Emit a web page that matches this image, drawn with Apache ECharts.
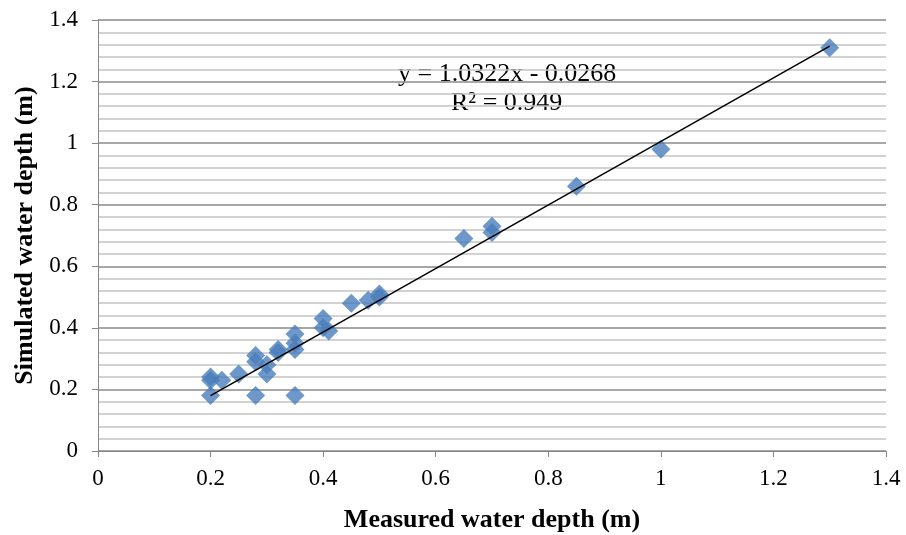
<!DOCTYPE html>
<html>
<head>
<meta charset="utf-8">
<script src="https://cdn.jsdelivr.net/npm/echarts@6/dist/echarts.min.js"></script>
<style>html,body{margin:0;padding:0;background:#fff}#c{width:906px;height:535px}</style>
</head>
<body>
<div id="c"></div>
<script>
var measured = [0.20, 0.20, 0.20, 0.22, 0.25, 0.28, 0.28, 0.28, 0.30, 0.30, 0.32, 0.32, 0.35, 0.35, 0.35, 0.35, 0.40, 0.40, 0.41, 0.45, 0.48, 0.50, 0.50, 0.65, 0.70, 0.70, 0.85, 1.00, 1.30];
var simulated = [0.24, 0.23, 0.18, 0.23, 0.25, 0.31, 0.29, 0.18, 0.25, 0.28, 0.32, 0.33, 0.38, 0.35, 0.33, 0.18, 0.43, 0.40, 0.39, 0.48, 0.49, 0.51, 0.50, 0.69, 0.73, 0.71, 0.86, 0.98, 1.31];
var trendX = [0.2, 1.3];
var slope = 1.0322, intercept = -0.0268;
var eqText = 'y = 1.0322x - 0.0268';
var r2Text = 'R² = 0.949';
var xTitle = 'Measured water depth (m)';
var yTitle = 'Simulated water depth (m)';

var pts = measured.map(function (m, i) { return [m, simulated[i]]; });
var trend = trendX.map(function (x) { return [x, slope * x + intercept]; });
var font = '"Liberation Serif", "Times New Roman", serif';

var chart = echarts.init(document.getElementById('c'));
chart.setOption({
  animation: false,
  grid: { left: 98, right: 20, top: 20, bottom: 84, containLabel: false, outerBoundsMode: 'none' },
  xAxis: {
    type: 'value', min: 0, max: 1.4, interval: 0.2,
    name: xTitle, nameLocation: 'middle', nameGap: 56,
    nameTextStyle: { fontFamily: font, fontSize: 26, fontWeight: 'bold', color: '#000' },
    axisLine: { show: true, lineStyle: { color: '#868686', width: 1 } },
    axisTick: { show: true, inside: false, length: 6, lineStyle: { color: '#868686' } },
    axisLabel: { fontFamily: font, fontSize: 23, color: '#000', margin: 16 },
    splitLine: { show: false }
  },
  yAxis: {
    type: 'value', min: 0, max: 1.4, interval: 0.2,
    name: yTitle, nameLocation: 'middle', nameGap: 60, nameRotate: 90,
    nameTextStyle: { fontFamily: font, fontSize: 26, fontWeight: 'bold', color: '#000' },
    axisLine: { show: true, lineStyle: { color: '#868686', width: 1 } },
    axisTick: { show: true, inside: false, length: 6, lineStyle: { color: '#868686' } },
    axisLabel: { fontFamily: font, fontSize: 23, color: '#000', margin: 20 },
    splitLine: { show: true, lineStyle: { color: '#8a8a8a', width: 1.5 } },
    minorTick: { show: false, splitNumber: 5 },
    minorSplitLine: { show: true, lineStyle: { color: '#c4c4c4', width: 1.5 } }
  },
  series: [
    {
      type: 'scatter', data: pts, symbol: 'diamond', symbolSize: 19,
      itemStyle: { color: '#4a7ebb' }, z: 3
    },
    {
      type: 'line', data: trend, symbol: 'none', z: 4,
      lineStyle: { color: '#000', width: 1.5 }
    }
  ],
  graphic: [
    { type: 'text', left: 398, top: 61, style: { text: eqText, font: '26px ' + font, fill: '#000' } },
    { type: 'text', left: 451, top: 90, style: { text: r2Text, font: '26px ' + font, fill: '#000' } }
  ]
});
</script>
</body>
</html>
